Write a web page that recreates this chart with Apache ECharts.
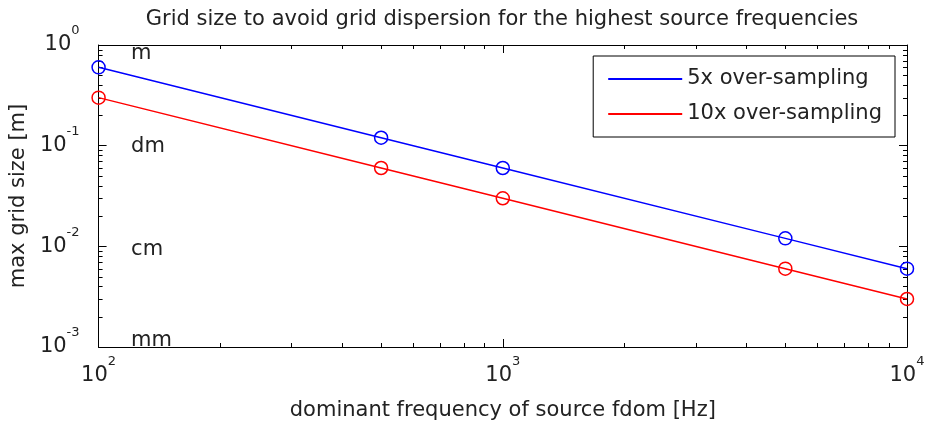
<!DOCTYPE html>
<html>
<head>
<meta charset="utf-8">
<script src="https://cdn.jsdelivr.net/npm/echarts@6/dist/echarts.min.js"></script>
<style>
html,body{margin:0;padding:0;background:#fff;}
#chart{width:931px;height:427px;}
</style>
</head>
<body>
<div id="chart"></div>
<script>
// ---- data ----
const freqs = [100, 500, 1000, 5000, 10000];
const over5 = [0.6, 0.12, 0.06, 0.012, 0.006];
const over10 = [0.3, 0.06, 0.03, 0.006, 0.003];
const seriesNames = ['5x over-sampling', '10x over-sampling'];
const unitLabels = ['m', 'dm', 'cm', 'mm'];
const unitX = [120, 120, 120, 120];
const unitY = [0.82, 0.098, 0.0093, 0.00115];
const xMinor = [200, 300, 400, 500, 600, 700, 800, 900, 2000, 3000, 4000, 5000, 6000, 7000, 8000, 9000];
const yMinor = [0.002, 0.003, 0.004, 0.005, 0.006, 0.007, 0.008, 0.009,
                0.02, 0.03, 0.04, 0.05, 0.06, 0.07, 0.08, 0.09,
                0.2, 0.3, 0.4, 0.5, 0.6, 0.7, 0.8, 0.9];

const FONT = 'DejaVu Sans';
const TXT = '#222';
const BLUE = '#0000ff';
const RED = '#ff0000';

function expLabel(v) {
  const e = Math.round(Math.log10(v));
  return '{b|10}{s|' + e + '}';
}
const richLbl = {
  b: { fontFamily: FONT, fontSize: 21, color: TXT, padding: [10, 0, 0, 0] },
  s: { fontFamily: FONT, fontSize: 13, color: TXT, verticalAlign: 'top' }
};

const chart = echarts.init(document.getElementById('chart'), null, { renderer: 'canvas' });

const axisCommon = {
  type: 'log',
  logBase: 10,
  axisLine: { show: true, onZero: false, lineStyle: { color: '#000', width: 1 } },
  axisTick: { show: true, inside: true, length: 8, lineStyle: { color: '#000', width: 1 } },
  splitLine: { show: false },
  minorTick: { show: false },
  minorSplitLine: { show: false }
};

function minorTickSeries(vals, dir) {
  return {
    type: 'custom',
    coordinateSystem: 'cartesian2d',
    xAxisIndex: 0, yAxisIndex: 0,
    silent: true,
    clip: false,
    z: 1,
    data: vals.map(v => dir === 'x' ? [v, 0.01] : [1000, v]),
    renderItem: function (params, api) {
      const cs = params.coordSys;
      const st = { stroke: '#000', lineWidth: 1 };
      const L = 4;
      if (dir === 'x') {
        const x = Math.round(api.coord([api.value(0), 0.01])[0]) + 0.5;
        const yb = cs.y + cs.height, yt = cs.y;
        return { type: 'group', children: [
          { type: 'line', shape: { x1: x, y1: yb, x2: x, y2: yb - L }, style: st },
          { type: 'line', shape: { x1: x, y1: yt, x2: x, y2: yt + L }, style: st }
        ]};
      } else {
        const y = Math.round(api.coord([1000, api.value(1)])[1]) + 0.5;
        const xl = cs.x, xr = cs.x + cs.width;
        return { type: 'group', children: [
          { type: 'line', shape: { x1: xl, y1: y, x2: xl + L, y2: y }, style: st },
          { type: 'line', shape: { x1: xr, y1: y, x2: xr - L, y2: y }, style: st }
        ]};
      }
    }
  };
}

const option = {
  animation: false,
  backgroundColor: '#fff',
  textStyle: { fontFamily: FONT, color: TXT },
  title: {
    text: 'Grid size to avoid grid dispersion for the highest source frequencies',
    left: 497,
    textAlign: 'center',
    top: 4,
    textStyle: { fontFamily: FONT, fontSize: 21, fontWeight: 'normal', color: TXT }
  },
  grid: { left: 96, right: 24, top: 45, bottom: 80, containLabel: false },
  legend: {
    data: seriesNames,
    orient: 'vertical',
    right: 36,
    top: 56,
    backgroundColor: '#fff',
    borderColor: '#000',
    borderWidth: 1,
    borderRadius: 0,
    padding: [10, 13, 10, 15],
    itemGap: 9,
    itemWidth: 74,
    itemHeight: 2,
    icon: 'rect',
    selectedMode: false,
    textStyle: { fontFamily: FONT, fontSize: 21, color: TXT, lineHeight: 26 }
  },
  xAxis: [
    Object.assign({}, axisCommon, {
      position: 'bottom', min: 100, max: 10000,
      name: 'dominant frequency of source fdom [Hz]',
      nameLocation: 'middle', nameGap: 53,
      nameTextStyle: { fontFamily: FONT, fontSize: 21, color: TXT },
      axisLabel: { show: true, margin: 8, formatter: expLabel, rich: richLbl }
    }),
    Object.assign({}, axisCommon, {
      position: 'top', min: 100, max: 10000, axisLabel: { show: false }
    })
  ],
  yAxis: [
    Object.assign({}, axisCommon, {
      position: 'left', min: 0.001, max: 1,
      name: 'max grid size [m]',
      nameLocation: 'middle', nameGap: 68,
      nameTextStyle: { fontFamily: FONT, fontSize: 21, color: TXT },
      axisLabel: { show: true, margin: 19, formatter: expLabel, rich: richLbl, padding: [0, 0, 10, 0] }
    }),
    Object.assign({}, axisCommon, {
      position: 'right', min: 0.001, max: 1, axisLabel: { show: false }
    })
  ],
  series: [
    {
      name: seriesNames[0], type: 'line',
      data: freqs.map((f, i) => [f, over5[i]]),
      showSymbol: false, symbol: 'none',
      lineStyle: { color: BLUE, width: 1.5 }, itemStyle: { color: BLUE },
      z: 3
    },
    {
      name: seriesNames[1], type: 'line',
      data: freqs.map((f, i) => [f, over10[i]]),
      showSymbol: false, symbol: 'none',
      lineStyle: { color: RED, width: 1.5 }, itemStyle: { color: RED },
      z: 3
    },
    {
      name: 'm5', type: 'scatter', clip: false,
      data: freqs.map((f, i) => [f, over5[i]]),
      symbol: 'circle', symbolSize: 13,
      itemStyle: { color: 'rgba(0,0,0,0)', borderColor: BLUE, borderWidth: 1.5, opacity: 1 },
      z: 4
    },
    {
      name: 'm10', type: 'scatter', clip: false,
      data: freqs.map((f, i) => [f, over10[i]]),
      symbol: 'circle', symbolSize: 13,
      itemStyle: { color: 'rgba(0,0,0,0)', borderColor: RED, borderWidth: 1.5, opacity: 1 },
      z: 4
    },
    {
      name: 'units', type: 'scatter', clip: false,
      data: unitLabels.map((t, i) => ({ value: [unitX[i], unitY[i]], name: t })),
      symbolSize: 1,
      itemStyle: { color: 'rgba(0,0,0,0)', opacity: 1 },
      label: {
        show: true, position: 'right', distance: 0, align: 'left', verticalAlign: 'middle',
        formatter: p => p.name,
        fontFamily: FONT, fontSize: 21, color: TXT, opacity: 1
      },
      z: 2
    },
    minorTickSeries(xMinor, 'x'),
    minorTickSeries(yMinor, 'y')
  ]
};
chart.setOption(option);
</script>
</body>
</html>
